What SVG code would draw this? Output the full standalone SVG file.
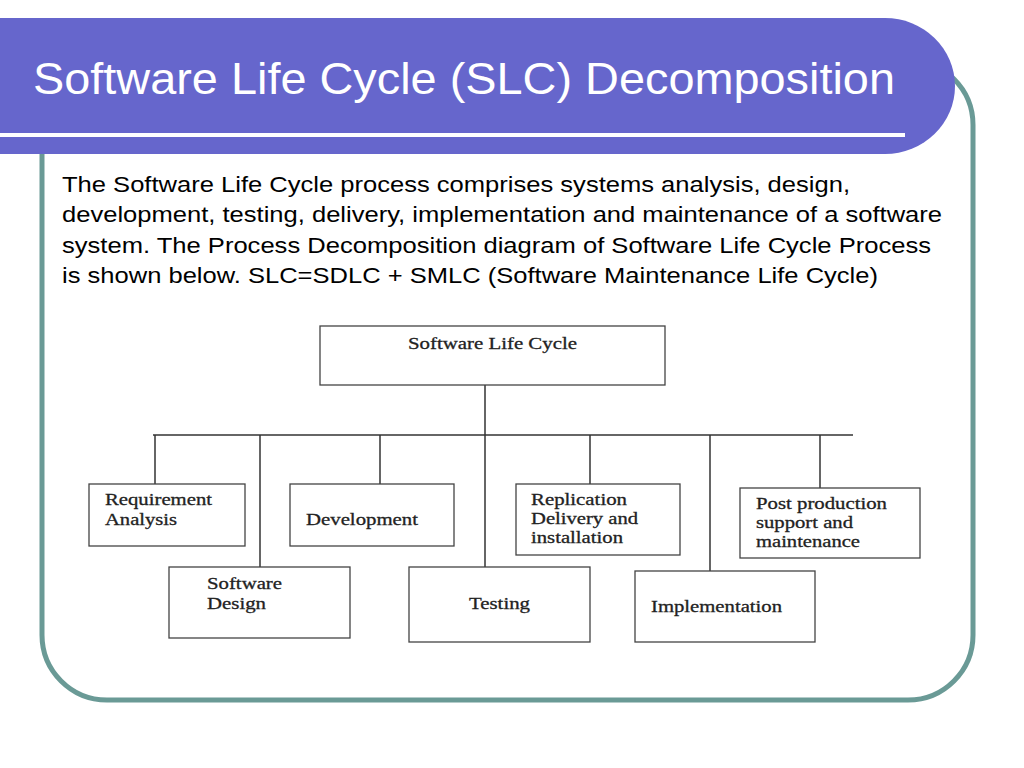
<svg xmlns="http://www.w3.org/2000/svg" width="1024" height="768" viewBox="0 0 1024 768">
<style>
.n rect{fill:#fff;stroke:#444;stroke-width:1.3}
.n text{font-family:"Liberation Serif",serif;font-size:17px;fill:#222;stroke:#222;stroke-width:0.3}
#conn line{stroke:#333;stroke-width:1.5}
.body{font-family:"Liberation Sans",Arial,sans-serif;font-size:22px;fill:#000}
</style>
<rect width="1024" height="768" fill="#fff"/>
<rect x="42" y="60" width="931" height="640" rx="65" fill="#fff" stroke="#6a9a96" stroke-width="5"/>
<path d="M0,18 H885 A70,68 0 0 1 885,154 H0 Z" fill="#6666cc"/>
<rect x="0" y="133" width="905" height="4" fill="#fff"/>
<text x="33" y="94" font-family="'Liberation Sans',Arial,sans-serif" font-size="44" fill="#fff" textLength="862" lengthAdjust="spacingAndGlyphs">Software Life Cycle (SLC) Decomposition</text>
<text class="body" x="62" y="192" textLength="788" lengthAdjust="spacingAndGlyphs">The Software Life Cycle process comprises systems analysis, design,</text>
<text class="body" x="62" y="222" textLength="880" lengthAdjust="spacingAndGlyphs">development, testing, delivery, implementation and maintenance of a software</text>
<text class="body" x="62" y="253" textLength="869" lengthAdjust="spacingAndGlyphs">system. The Process Decomposition diagram of Software Life Cycle Process</text>
<text class="body" x="62" y="283" textLength="816" lengthAdjust="spacingAndGlyphs">is shown below. SLC=SDLC + SMLC (Software Maintenance Life Cycle)</text>
<g id="conn">
<line x1="485" y1="385" x2="485" y2="567"/>
<line x1="153" y1="435" x2="853" y2="435"/>
<line x1="155" y1="435" x2="155" y2="484"/>
<line x1="260" y1="435" x2="260" y2="567"/>
<line x1="380" y1="435" x2="380" y2="484"/>
<line x1="590" y1="435" x2="590" y2="484"/>
<line x1="710" y1="435" x2="710" y2="571"/>
<line x1="820" y1="435" x2="820" y2="488"/>
</g>
<g id="slc" class="n"><rect x="320" y="326" width="345" height="59"/><text x="408" y="349" textLength="169" lengthAdjust="spacingAndGlyphs">Software Life Cycle</text></g>
<g id="req" class="n"><rect x="89" y="484" width="156" height="62"/><text x="105" y="505" textLength="107" lengthAdjust="spacingAndGlyphs">Requirement</text><text x="105" y="525" textLength="72" lengthAdjust="spacingAndGlyphs">Analysis</text></g>
<g id="dev" class="n"><rect x="290" y="484" width="164" height="62"/><text x="306" y="525" textLength="112" lengthAdjust="spacingAndGlyphs">Development</text></g>
<g id="rep" class="n"><rect x="516" y="484" width="164" height="71"/><text x="531" y="505" textLength="96" lengthAdjust="spacingAndGlyphs">Replication</text><text x="531" y="524" textLength="107" lengthAdjust="spacingAndGlyphs">Delivery and</text><text x="531" y="543" textLength="92" lengthAdjust="spacingAndGlyphs">installation</text></g>
<g id="post" class="n"><rect x="740" y="488" width="180" height="70"/><text x="756" y="509" textLength="131" lengthAdjust="spacingAndGlyphs">Post production</text><text x="756" y="528" textLength="97" lengthAdjust="spacingAndGlyphs">support and</text><text x="756" y="547" textLength="104" lengthAdjust="spacingAndGlyphs">maintenance</text></g>
<g id="des" class="n"><rect x="169" y="567" width="181" height="71"/><text x="207" y="589" textLength="75" lengthAdjust="spacingAndGlyphs">Software</text><text x="207" y="609" textLength="59" lengthAdjust="spacingAndGlyphs">Design</text></g>
<g id="test" class="n"><rect x="409" y="567" width="181" height="75"/><text x="469" y="609" textLength="61" lengthAdjust="spacingAndGlyphs">Testing</text></g>
<g id="impl" class="n"><rect x="635" y="571" width="180" height="71"/><text x="651" y="612" textLength="131" lengthAdjust="spacingAndGlyphs">Implementation</text></g>
</svg>
